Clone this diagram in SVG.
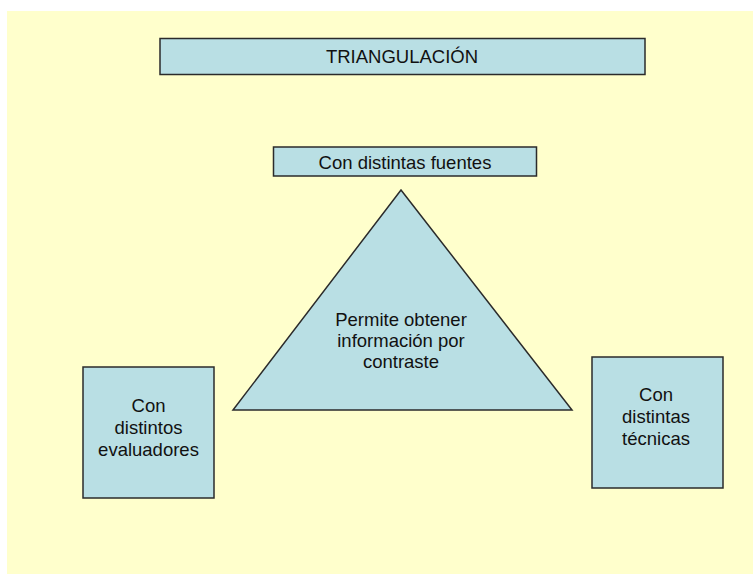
<svg xmlns="http://www.w3.org/2000/svg" width="753" height="576" viewBox="0 0 753 576">
<style>
.shape{fill:#B9DFE4;stroke:#2b2b2b;stroke-width:1.5}
.t{font-family:"Liberation Sans",Arial,sans-serif;font-size:18.5px;fill:#111;text-anchor:middle}
</style>
<rect x="0" y="0" width="753" height="576" fill="#ffffff"/>
<rect x="7" y="11" width="746" height="563" fill="#FFFFCC"/>
<g id="title">
<rect class="shape" x="160" y="38.5" width="485" height="36"/>
<text class="t" x="402" y="63">TRIANGULACIÓN</text>
</g>
<g id="fuentes">
<rect class="shape" x="273.5" y="147" width="263" height="29"/>
<text class="t" x="405" y="169">Con distintas fuentes</text>
</g>
<g id="triangulo">
<polygon class="shape" points="401,190 572,410 233,410"/>
<text class="t" x="401" y="326">Permite obtener</text>
<text class="t" x="401" y="347">información por</text>
<text class="t" x="401" y="368">contraste</text>
</g>
<g id="evaluadores">
<rect class="shape" x="83" y="367" width="131" height="131"/>
<text class="t" x="148.5" y="412">Con</text>
<text class="t" x="148.5" y="434">distintos</text>
<text class="t" x="148.5" y="456">evaluadores</text>
</g>
<g id="tecnicas">
<rect class="shape" x="592" y="357" width="131" height="131"/>
<text class="t" x="656" y="401">Con</text>
<text class="t" x="656" y="423">distintas</text>
<text class="t" x="656" y="445">técnicas</text>
</g>
<g id="connectors"/>
</svg>
